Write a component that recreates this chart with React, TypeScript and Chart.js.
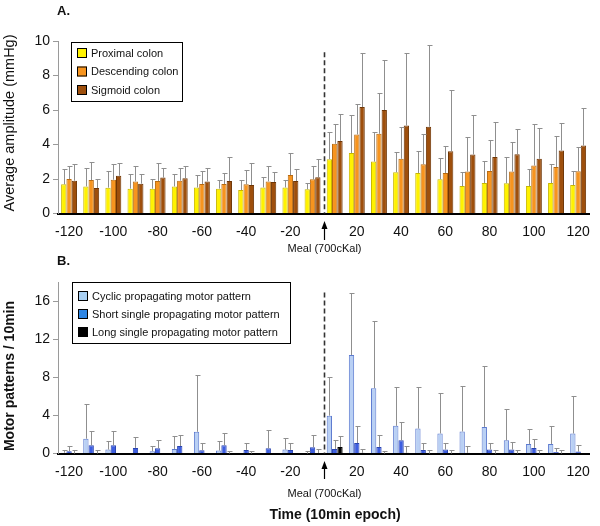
import React, { useEffect, useRef } from "react";
import { Chart, registerables } from "chart.js";

Chart.register(...registerables);

const categories = [-120, -110, -100, -90, -80, -70, -60, -50, -40, -30, -20, -10, 10, 20, 30, 40, 50, 60, 70, 80, 90, 100, 110, 120];

// Panel A: average amplitude (mmHg)
const proximal = [1.69, 1.57, 1.5, 1.44, 1.44, 1.57, 1.51, 1.44, 1.36, 1.51, 1.51, 1.4, 3.15, 3.51, 3.01, 2.39, 2.35, 1.98, 1.59, 1.77, 1.75, 1.59, 1.77, 1.65];
const proximalErr = [2.56, 2.62, 2.49, 2.31, 2.0, 2.27, 2.23, 1.94, 1.92, 2.14, 1.92, 1.75, 4.72, 5.69, 4.7, 3.57, 3.63, 3.22, 2.43, 3.03, 3.28, 2.56, 2.87, 2.45];
const descending = [2.0, 1.94, 1.96, 1.86, 1.88, 1.9, 1.71, 1.71, 1.69, 1.86, 2.23, 1.98, 4.04, 4.58, 4.62, 3.17, 2.85, 2.35, 2.43, 2.47, 2.43, 2.78, 2.7, 2.45];
const descendingErr = [2.76, 2.97, 2.85, 2.76, 2.91, 2.62, 2.49, 2.35, 2.52, 2.78, 3.5, 2.78, 5.2, 6.37, 6.97, 5.03, 4.58, 3.9, 4.45, 4.25, 4.14, 5.2, 4.47, 3.84];
const sigmoid = [1.9, 1.48, 2.19, 1.73, 2.08, 2.04, 1.86, 1.88, 1.65, 1.83, 1.88, 2.1, 4.21, 6.17, 6.0, 5.1, 5.03, 3.61, 3.42, 3.28, 3.44, 3.17, 3.65, 3.94];
const sigmoidErr = [2.87, 2.0, 2.91, 2.29, 2.66, 2.78, 2.66, 3.26, 2.95, 2.43, 2.56, 3.17, 5.79, 9.32, 8.91, 9.28, 9.75, 7.15, 5.71, 5.32, 4.87, 4.97, 5.24, 6.12];

// Panel B: motor patterns / 10 min
const cyclic = [0.08, 1.55, 0.41, 0, 0.24, 0.48, 2.28, 0.31, 0, 0, 0.41, 0, 3.97, 10.34, 6.86, 2.9, 2.62, 2.1, 2.31, 2.79, 1.38, 1.0, 1.0, 2.1];
const cyclicErr = [0.34, 5.17, 1.28, 0, 0.83, 1.83, 8.2, 1.28, 0, 0, 1.66, 0.31, 8.07, 16.86, 13.9, 7.03, 6.93, 6.31, 7.1, 9.2, 4.66, 2.62, 2.9, 6.0];
const shortSingle = [0.24, 0.86, 0.86, 0.59, 0.55, 0.79, 0.34, 0.86, 0.38, 0.55, 0.38, 0.66, 0.48, 1.1, 0.69, 1.38, 0.38, 0.41, 0.07, 0.41, 0.41, 0.59, 0.17, 0.2];
const shortSingleErr = [0.83, 2.31, 2.38, 1.76, 1.38, 1.97, 1.14, 2.2, 1.1, 2.48, 1.14, 1.93, 1.45, 2.93, 1.97, 3.28, 1.14, 1.14, 0.79, 1.1, 1.21, 1.55, 0.62, 0.9];
const longSingle = [0, 0, 0, 0, 0, 0, 0, 0, 0, 0, 0, 0.05, 0.69, 0.07, 0, 0.07, 0, 0, 0, 0, 0, 0, 0, 0];
const longSingleErr = [0.34, 0.34, 0, 0, 0, 0, 0, 0.31, 0.31, 0, 0, 0.45, 1.79, 0.52, 0.28, 0.76, 0.34, 0.34, 0, 0.34, 0.34, 0.34, 0.34, 0];

const labelsA = ["Proximal colon", "Descending colon", "Sigmoid colon"];
const labelsB = ["Cyclic propagating motor pattern", "Short single propagating motor pattern", "Long single propagating motor pattern"];

const FONT = '"Liberation Sans", Arial, Helvetica, sans-serif';
const W = 600;
const H = 526;

type Decor = {
  letter: string;
  letterY: number;
  yTitle: string;
  yTitleFont: string;
  yTitleY: number;
  errors: number[][];
  dashTopValue: number;
  arrowTip: number;
  arrowTail: number;
  mealY: number;
  legendBox: [number, number, number, number];
  legendRows: number[];
  legendLabels: string[];
  legendColors: string[];
  xTitle?: string;
  xTitleY?: number;
};

function makeDecor(d: Decor) {
  return {
    id: "decor" + d.letter,
    afterDatasetsDraw(chart: any) {
      const ctx = chart.ctx;
      const xs = chart.scales.x;
      const ys = chart.scales.y;
      ctx.save();
      // error bars
      ctx.strokeStyle = "#8f8f8f";
      ctx.lineWidth = 1;
      d.errors.forEach((errArr, di) => {
        const meta = chart.getDatasetMeta(di);
        const vals = chart.data.datasets[di].data as number[];
        meta.data.forEach((bar: any, i: number) => {
          const e = errArr[i];
          if (!e) return;
          const x = Math.round(bar.x) + 0.5;
          const y0 = ys.getPixelForValue(vals[i]);
          const y1 = Math.round(ys.getPixelForValue(e)) + 0.5;
          ctx.beginPath();
          ctx.moveTo(x, y0);
          ctx.lineTo(x, y1);
          ctx.moveTo(x - 2, y1);
          ctx.lineTo(x + 3, y1);
          ctx.stroke();
        });
      });
      // dashed meal line
      const mx = Math.round(xs.getPixelForValue(11.5)) + 0.5;
      ctx.strokeStyle = "#333";
      ctx.lineWidth = 1.6;
      ctx.setLineDash([5, 3]);
      ctx.beginPath();
      ctx.moveTo(mx, ys.getPixelForValue(d.dashTopValue));
      ctx.lineTo(mx, ys.bottom);
      ctx.stroke();
      ctx.setLineDash([]);
      ctx.restore();
    },
    afterDraw(chart: any) {
      const ctx = chart.ctx;
      const xs = chart.scales.x;
      ctx.save();
      const mx = Math.round(xs.getPixelForValue(11.5)) + 0.5;
      // arrow
      ctx.strokeStyle = "#000";
      ctx.fillStyle = "#000";
      ctx.lineWidth = 1.2;
      ctx.beginPath();
      ctx.moveTo(mx, d.arrowTail);
      ctx.lineTo(mx, d.arrowTip + 5);
      ctx.stroke();
      ctx.beginPath();
      ctx.moveTo(mx, d.arrowTip);
      ctx.lineTo(mx - 3, d.arrowTip + 8);
      ctx.lineTo(mx + 3, d.arrowTip + 8);
      ctx.closePath();
      ctx.fill();
      // meal text
      ctx.font = "11px " + FONT;
      ctx.fillStyle = "#111";
      ctx.textAlign = "center";
      ctx.textBaseline = "middle";
      ctx.fillText("Meal (700cKal)", mx, d.mealY);
      // panel letter
      ctx.font = "bold 13px " + FONT;
      ctx.textAlign = "left";
      ctx.fillText(d.letter, 57, d.letterY);
      // y title
      ctx.save();
      ctx.translate(10, d.yTitleY);
      ctx.rotate(-Math.PI / 2);
      ctx.font = d.yTitleFont;
      ctx.textAlign = "center";
      ctx.textBaseline = "middle";
      ctx.fillStyle = "#111";
      ctx.fillText(d.yTitle, 0, 0);
      ctx.restore();
      // x title
      if (d.xTitle) {
        ctx.font = "bold 14px " + FONT;
        ctx.textAlign = "center";
        ctx.textBaseline = "middle";
        ctx.fillText(d.xTitle, 335, d.xTitleY as number);
      }
      // legend
      const [lx, ly, lw, lh] = d.legendBox;
      ctx.fillStyle = "#fff";
      ctx.fillRect(lx, ly, lw, lh);
      ctx.strokeStyle = "#000";
      ctx.lineWidth = 1;
      ctx.strokeRect(lx + 0.5, ly + 0.5, lw, lh);
      ctx.font = "11px " + FONT;
      ctx.textAlign = "left";
      ctx.textBaseline = "middle";
      d.legendLabels.forEach((lab, i) => {
        const cy = d.legendRows[i];
        ctx.fillStyle = d.legendColors[i];
        ctx.fillRect(lx + 6, cy - 5, 10, 10);
        ctx.strokeStyle = "#000";
        ctx.strokeRect(lx + 6.5, cy - 4.5, 9, 9);
        ctx.fillStyle = "#111";
        ctx.fillText(lab, lx + 20, cy + 0.5);
      });
      ctx.restore();
    },
  };
}

function baseOptions(top: number, bottom: number, yMax: number, labelEvery: number, tickStep: number) {
  return {
    responsive: false,
    animation: false,
    events: [],
    layout: { padding: { left: 0, right: 8, top: top, bottom: H - bottom - 40 } },
    plugins: { legend: { display: false }, tooltip: { enabled: false } },
    scales: {
      x: {
        grid: { display: false, drawTicks: false },
        border: { display: true, color: "#000", width: 2 },
        ticks: {
          autoSkip: false,
          maxRotation: 0,
          minRotation: 0,
          padding: 10,
          color: "#111",
          font: { family: FONT, size: 14 },
          callback: (_v: any, i: number) => (categories[i] % 20 === 0 ? String(categories[i]) : ""),
        },
        afterFit: (s: any) => {
          s.height = 40;
        },
      },
      y: {
        min: 0,
        max: yMax,
        ticks: {
          stepSize: tickStep,
          padding: 3,
          color: "#111",
          font: { family: FONT, size: 14 },
          callback: (v: any) => (Math.round(v) % labelEvery === 0 ? String(v) : ""),
        },
        grid: { drawOnChartArea: false, drawTicks: true, tickLength: 5, color: "#9a9a9a" },
        border: { display: true, color: "#9a9a9a", width: 1 },
        afterFit: (s: any) => {
          s.width = 58;
        },
      },
    },
  };
}

export default function App() {
  const refA = useRef<HTMLCanvasElement>(null);
  const refB = useRef<HTMLCanvasElement>(null);

  useEffect(() => {
    const labels = categories.map(String);
    const barCommon = { categoryPercentage: 0.72, barPercentage: 1.0, borderWidth: 1 };
    const chartA = new Chart(refA.current as HTMLCanvasElement, {
      type: "bar",
      data: {
        labels,
        datasets: [
          { label: labelsA[0], data: proximal, backgroundColor: "#FFF200", borderColor: "#c9b800", ...barCommon },
          { label: labelsA[1], data: descending, backgroundColor: "#F7941E", borderColor: "#b86a10", ...barCommon },
          { label: labelsA[2], data: sigmoid, backgroundColor: "#9E4F0C", borderColor: "#6e3505", ...barCommon },
        ],
      },
      options: baseOptions(41, 213.5, 10, 2, 1) as any,
      plugins: [
        makeDecor({
          letter: "A.",
          letterY: 11,
          yTitle: "Average amplitude (mmHg)",
          yTitleFont: "14.5px " + FONT,
          yTitleY: 123,
          errors: [proximalErr, descendingErr, sigmoidErr],
          dashTopValue: 9.35,
          arrowTip: 221,
          arrowTail: 240,
          mealY: 249,
          legendBox: [71, 42, 111, 59],
          legendRows: [53, 71.5, 90],
          legendLabels: labelsA,
          legendColors: ["#FFF200", "#F7941E", "#9E4F0C"],
        }) as any,
      ],
    });
    const chartB = new Chart(refB.current as HTMLCanvasElement, {
      type: "bar",
      data: {
        labels,
        datasets: [
          { label: labelsB[0], data: cyclic, backgroundColor: "#B9D0F4", borderColor: "#5d7bd0", ...barCommon },
          { label: labelsB[1], data: shortSingle, backgroundColor: "#3D5EE0", borderColor: "#2a44b0", ...barCommon },
          { label: labelsB[2], data: longSingle, backgroundColor: "#000000", borderColor: "#000000", ...barCommon },
        ],
      },
      options: baseOptions(282, 453.5, 18, 4, 2) as any,
      plugins: [
        makeDecor({
          letter: "B.",
          letterY: 261,
          yTitle: "Motor patterns / 10min",
          yTitleFont: "bold 14px " + FONT,
          yTitleY: 376,
          errors: [cyclicErr, shortSingleErr, longSingleErr],
          dashTopValue: 16.9,
          arrowTip: 461,
          arrowTail: 479,
          mealY: 494,
          legendBox: [72, 282, 218, 61],
          legendRows: [296, 314, 332],
          legendLabels: labelsB,
          legendColors: ["#A9D0F3", "#2E86E4", "#000000"],
          xTitle: "Time (10min epoch)",
          xTitleY: 515,
        }) as any,
      ],
    });
    return () => {
      chartA.destroy();
      chartB.destroy();
    };
  }, []);

  const canvasStyle: React.CSSProperties = { position: "absolute", left: 0, top: 0, width: W, height: H };
  return (
    <div style={{ position: "fixed", left: 0, top: 0, width: W, height: H, background: "#fff" }}>
      <canvas ref={refA} width={W} height={H} style={canvasStyle} />
      <canvas ref={refB} width={W} height={H} style={canvasStyle} />
    </div>
  );
}
